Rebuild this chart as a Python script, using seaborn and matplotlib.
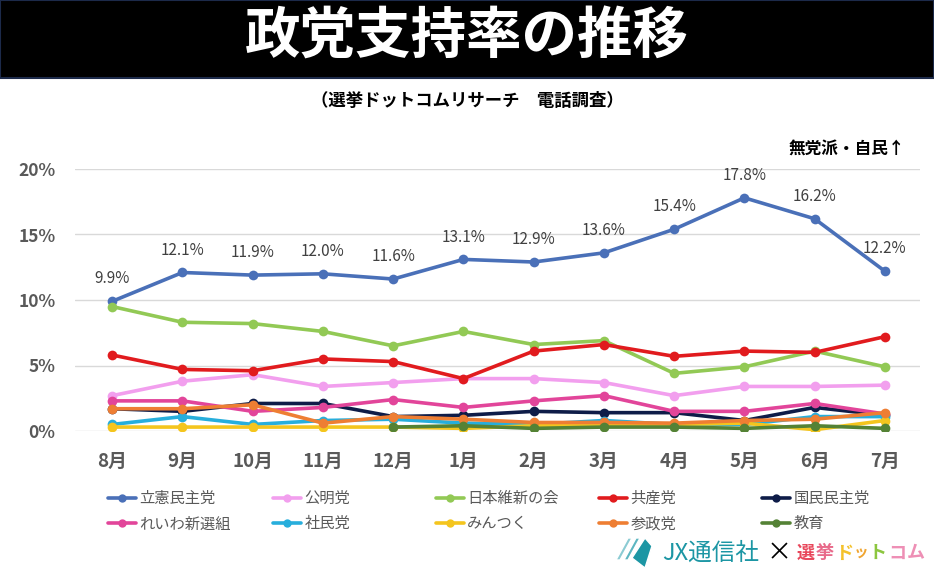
import numpy as np
import pandas as pd
import matplotlib
matplotlib.use("Agg")
import matplotlib.pyplot as plt
from matplotlib.lines import Line2D
from matplotlib.patches import Rectangle, Polygon
import seaborn as sns

months = ["8月", "9月", "10月", "11月", "12月", "1月", "2月", "3月", "4月", "5月", "6月", "7月"]

cdp = [9.9, 12.1, 11.9, 12.0, 11.6, 13.1, 12.9, 13.6, 15.4, 17.8, 16.2, 12.2]
komeito = [2.7, 3.8, 4.3, 3.4, 3.7, 4.0, 4.0, 3.7, 2.7, 3.4, 3.4, 3.5]
ishin = [9.5, 8.3, 8.2, 7.6, 6.5, 7.6, 6.6, 6.9, 4.4, 4.9, 6.1, 4.9]
jcp = [5.8, 4.7, 4.6, 5.5, 5.3, 4.0, 6.1, 6.6, 5.7, 6.1, 6.0, 7.2]
dpfp = [1.7, 1.5, 2.1, 2.1, 1.1, 1.2, 1.5, 1.4, 1.4, 0.8, 1.8, 1.2]
reiwa = [2.3, 2.3, 1.5, 1.8, 2.4, 1.8, 2.3, 2.7, 1.5, 1.5, 2.1, 1.3]
sdp = [0.5, 1.1, 0.5, 0.8, 0.9, 0.6, 0.5, 0.8, 0.5, 0.5, 1.1, 1.1]
mintsuku = [0.3, 0.3, 0.3, 0.3, 0.3, 0.2, 0.4, 0.4, 0.5, 0.6, 0.1, 0.8]
sanseito = [1.7, 1.7, 2.0, 0.6, 1.1, 0.9, 0.65, 0.65, 0.6, 0.8, 0.9, 1.4]
kyoiku = [np.nan, np.nan, np.nan, np.nan, 0.3, 0.4, 0.2, 0.3, 0.3, 0.2, 0.4, 0.2]

parties = ["立憲民主党", "公明党", "日本維新の会", "共産党", "国民民主党",
           "れいわ新選組", "社民党", "みんつく", "参政党", "教育"]
series = [cdp, komeito, ishin, jcp, dpfp, reiwa, sdp, mintsuku, sanseito, kyoiku]
colors = ["#4A70B8", "#F29FEE", "#92C955", "#E11B1E", "#0E1C48",
          "#E2459A", "#27AEDC", "#F4C51E", "#EE7E33", "#548235"]
yticks = [0, 5, 10, 15, 20]
ytick_labels = ["0%", "5%", "10%", "15%", "20%"]

sns.set_theme(style="white")
plt.rcParams['font.family'] = ['Noto Sans CJK JP', 'DejaVu Sans']

rows = []
for p, vals in zip(parties, series):
    for m, v in zip(months, vals):
        rows.append({"month": m, "party": p, "value": v})
df = pd.DataFrame(rows)

W, H = 934, 577
fig = plt.figure(figsize=(W / 100, H / 100), dpi=100)
ax = fig.add_axes([75 / W, (H - 431) / H, 845 / W, 262 / H])

palette = dict(zip(parties, colors))
for p in parties:
    sub = df[df["party"] == p]
    sns.lineplot(data=sub, x="month", y="value", color=palette[p], marker="o",
                 markersize=7, markeredgewidth=0, linewidth=2.6, sort=False,
                 ax=ax, legend=False)

ax.set_xlim(-0.53, 11.5)
ax.set_ylim(0, 20)
ax.set_yticks(yticks)
ax.set_yticklabels(ytick_labels)
ax.set_xticks(range(len(months)))
ax.set_xticklabels(months)
ax.set_xlabel("")
ax.set_ylabel("")
for s in ax.spines.values():
    s.set_visible(False)
ax.grid(axis="y", color="#D9D9D9", linewidth=1.0)
ax.set_axisbelow(True)
ax.tick_params(axis="both", length=0)
ax.tick_params(axis="x", pad=15)
ax.tick_params(axis="y", pad=14)
for lbl in ax.get_xticklabels():
    lbl.set_fontsize(13.5)
    lbl.set_fontweight("bold")
    lbl.set_color("#595959")
for lbl in ax.get_yticklabels():
    lbl.set_fontsize(12.5)
    lbl.set_fontweight("bold")
    lbl.set_color("#595959")

# data labels for 立憲民主党
for i, v in enumerate(cdp):
    ax.annotate(f"{v:.1f}%", (i, v), xytext=(0, 10), textcoords="offset points",
                ha="center", va="bottom", fontsize=11, color="#404040",
                annotation_clip=False)

# title bar
fig.patches.append(Rectangle((0, (H - 78) / H), 1, 78 / H, transform=fig.transFigure,
                             facecolor="black", edgecolor="#1C2A4A", linewidth=1.5, zorder=0))
fig.text(0.5, (H - 38) / H, "政党支持率の推移", ha="center", va="center",
         fontsize=40, fontweight="bold", color="white")
fig.text(0.5, (H - 101) / H, "（選挙ドットコムリサーチ　電話調査）", ha="center", va="center",
         fontsize=12.5, fontweight="bold", color="black")
fig.text(905 / W, (H - 149) / H, "無党派・自民↑", ha="right", va="center",
         fontsize=12, fontweight="bold", color="black")

# legend: 5 columns of 2 entries
col_x = [108, 273, 436, 599, 762]
for c in range(5):
    handles = []
    labels = []
    for r in range(2):
        k = r * 5 + c
        handles.append(Line2D([0], [0], color=colors[k], linewidth=2.6, marker="o",
                              markersize=6, markeredgewidth=0))
        labels.append(parties[k])
    leg = fig.legend(handles, labels, loc="upper left",
                     bbox_to_anchor=(col_x[c] / W, (H - 490) / H),
                     frameon=False, fontsize=11, handlelength=1.8, handletextpad=0.25,
                     labelspacing=0.55, borderaxespad=0, borderpad=0)
    for t in leg.get_texts():
        t.set_color("#595959")

# logo
teal = "#1C96A4"
fig.patches.append(Polygon([[616 / W, (H - 560) / H], [628 / W, (H - 538) / H],
                            [632 / W, (H - 538) / H], [620 / W, (H - 560) / H]],
                           closed=True, transform=fig.transFigure, facecolor="#8CCBD3"))
fig.patches.append(Polygon([[624 / W, (H - 560) / H], [636 / W, (H - 538) / H],
                            [640 / W, (H - 538) / H], [628 / W, (H - 560) / H]],
                           closed=True, transform=fig.transFigure, facecolor="#5DB6C1"))
fig.patches.append(Polygon([[632 / W, (H - 558) / H], [645 / W, (H - 538) / H],
                            [652 / W, (H - 546) / H], [645 / W, (H - 568) / H]],
                           closed=True, transform=fig.transFigure, facecolor=teal))
fig.text(662 / W, (H - 553) / H, "JX通信社", ha="left", va="center",
         fontsize=17, color=teal)
fig.text(779 / W, (H - 553) / H, "×", ha="center", va="center",
         fontsize=18, color="black")
logo_chars = ["選", "挙", "ド", "ッ", "ト", "コ", "ム"]
logo_cols = ["#E8475B", "#E86A8A", "#F4C22B", "#F0A531", "#8CC63F", "#EE8FB5", "#EE8FB5"]
logo_x = [806, 825, 844, 861, 878, 897, 916]
logo_sizes = [13, 13, 13, 10.5, 13, 13, 13]
for ch, col, x, fs in zip(logo_chars, logo_cols, logo_x, logo_sizes):
    fig.text(x / W, (H - 553) / H, ch, ha="center", va="center", fontsize=fs,
             fontweight="bold", color=col)

fig.savefig("out.png", dpi=100)
